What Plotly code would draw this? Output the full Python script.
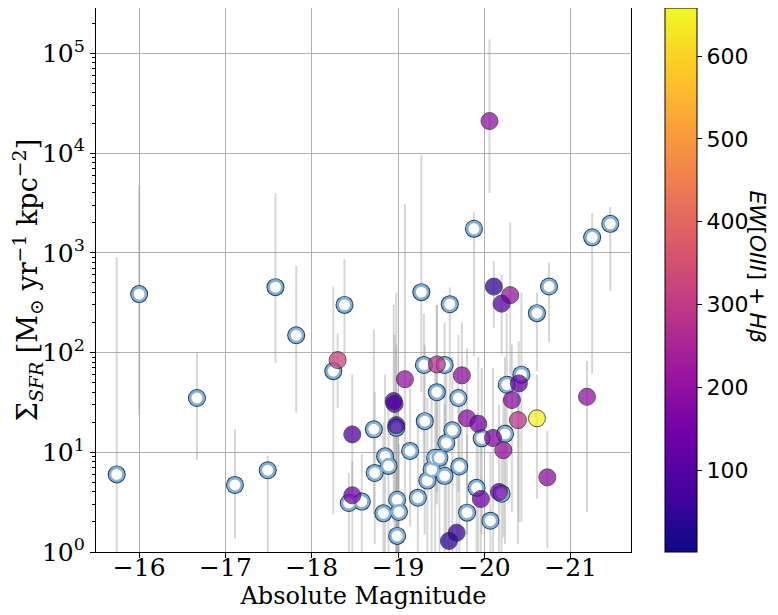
import plotly.graph_objects as go

# galaxias sin medida de EW (círculos abiertos)
open_mag = [-15.74, -16.00, -16.67, -17.11, -17.49, -17.58, -17.82, -18.25, -18.38, -18.43,
            -18.58, -18.72, -18.73, -18.83, -18.85, -18.89, -18.99, -19.01, -18.99, -18.98,
            -19.14, -19.23, -19.30, -19.31, -19.34, -19.39, -19.43, -19.48, -19.54, -19.45,
            -19.54, -19.56, -19.63, -19.71, -19.70, -19.80, -19.91, -19.97, -20.07, -20.20,
            -20.24, -20.26, -20.43, -20.61, -20.75, -19.60, -19.88, -21.25, -21.46, -19.27]
open_sfr = [6.0, 385, 35, 4.7, 6.6, 452, 149, 65, 300, 3.1,
            3.2, 17, 6.2, 2.44, 9.1, 7.3, 3.34, 2.52, 1.45, 17.6,
            10.3, 3.5, 75, 20.5, 5.2, 6.7, 8.8, 8.8, 5.8, 40,
            75, 12.4, 16.6, 7.2, 35, 2.48, 4.4, 13.8, 2.06, 3.84,
            15.3, 47.5, 60, 248, 459, 305, 1740, 1430, 1950, 403]
open_hi = [900, 4770, 100, 17, 9.2, 3960, 740, 460, 860, 6.2,
           9.6, 170, 40, 20, 60, 30, 25, 12, 8, 400,
           55, 20, 245, 120, 35, 45, 70, 40, 30, 300,
           200, 80, 90, 35, 150, 15, 25, 70, 10, 14,
           90, 250, 400, 400, 800, 450, 2540, 2500, 2870, 9500]
open_lo = [0.5, 23.6, 8.3, 1.35, 0.5, 78, 25, 2.4, 93, 0.5,
           0.5, 2.4, 1.2, 0.5, 0.6, 0.5, 0.5, 0.5, 0.5, 0.7,
           1.8, 0.5, 5, 1.5, 0.5, 0.8, 0.5, 1.0, 0.5, 3,
           6, 1.5, 0.8, 0.5, 4, 0.5, 0.5, 1.5, 0.5, 0.5,
           1.2, 4, 2, 65, 127, 15, 92, 61, 412, 40]

# galaxias con EW([OIII]+Hβ)
ew_mag = [-18.30, -18.47, -18.47, -19.08, -18.95, -18.96, -18.98, -19.45, -19.74, -19.80,
          -19.93, -20.10, -20.22, -20.32, -20.40, -20.39, -20.61, -21.19, -20.73, -19.96,
          -20.17, -19.68, -19.59, -20.06, -20.11, -20.30, -20.20]
ew_sfr = [84, 15.1, 3.7, 54, 32.6, 30.5, 18.7, 76, 59, 21.9,
          19.3, 13.9, 10.5, 33.4, 49, 21, 21.9, 36, 5.6, 3.4,
          4.0, 1.56, 1.29, 20900, 458, 376, 309]
ew_val = [320, 90, 150, 210, 70, 90, 60, 280, 200, 190,
          160, 170, 210, 190, 130, 290, 650, 200, 190, 150,
          130, 60, 40, 200, 40, 210, 100]
ew_hi = [156, 60, 8, 3100, 300, 150, 120, 300, 200, 110,
         90, 70, 35, 120, 130, 60, 60, 82, 16.3, 20,
         30, 6, 5, 138000, 830, 2000, 600]
ew_lo = [27.6, 3, 0.5, 3, 2, 1.5, 0.6, 4, 6, 1.5,
         1.0, 0.8, 1.4, 2.5, 2, 1.2, 3.4, 2.5, 1.1, 0.5,
         0.5, 0.5, 0.5, 3970, 175, 60, 95]

Y_TICKS = [1, 10, 100, 1000, 10000, 100000]
Y_TICKTEXT = ["10<sup>0</sup>", "10<sup>1</sup>", "10<sup>2</sup>",
              "10<sup>3</sup>", "10<sup>4</sup>", "10<sup>5</sup>"]
X_TICKS = [-16, -17, -18, -19, -20, -21]
CB_TICKS = [100, 200, 300, 400, 500, 600]

SERIF = "DejaVu Serif"
SANS = "DejaVu Sans"
ERR_COLOR = "rgba(150,150,150,0.38)"


def err_trace(x, y, hi, lo):
    return go.Scatter(
        x=x, y=y, mode="markers",
        marker=dict(size=1, opacity=0),
        error_y=dict(type="data", symmetric=False,
                     array=[h - v for h, v in zip(hi, y)],
                     arrayminus=[v - l for v, l in zip(y, lo)],
                     color=ERR_COLOR, thickness=2, width=0),
        showlegend=False, hoverinfo="skip",
    )


fig = go.Figure()
fig.add_trace(err_trace(open_mag, open_sfr, open_hi, open_lo))
fig.add_trace(err_trace(ew_mag, ew_sfr, ew_hi, ew_lo))

# círculos abiertos: borde oscuro + anillo azul claro + interior blanco
fig.add_trace(go.Scatter(
    x=open_mag, y=open_sfr, mode="markers",
    marker=dict(size=18, color="#1d3b5c", line=dict(width=0)),
    showlegend=False,
))
fig.add_trace(go.Scatter(
    x=open_mag, y=open_sfr, mode="markers",
    marker=dict(size=13.5, color="white", line=dict(width=2.6, color="#86b0d6")),
    showlegend=False,
))

fig.add_trace(go.Scatter(
    x=ew_mag, y=ew_sfr, mode="markers",
    marker=dict(
        size=17, color=ew_val, colorscale="Plasma", cmin=1, cmax=658,
        opacity=0.75, line=dict(width=1, color="#222222"),
        colorbar=dict(
            x=1.0636, xanchor="left", xpad=0, y=0.5, yanchor="middle", ypad=0, len=1,
            thickness=32, outlinewidth=1, outlinecolor="black",
            tickvals=CB_TICKS, ticks="outside", ticklen=5, tickcolor="black",
            tickfont=dict(family=SANS, size=22, color="black"),
        ),
    ),
    showlegend=False,
))

fig.add_annotation(
    text="<i>EW</i>[<i>OIII</i>] + <i>Hβ</i>",
    xref="paper", yref="paper", x=1.2364, y=0.524,
    xanchor="center", yanchor="middle",
    textangle=90, showarrow=False,
    font=dict(family=SANS, size=22, color="black"),
)

fig.update_xaxes(
    range=[-15.5, -21.7], tickvals=X_TICKS,
    showgrid=True, gridcolor="#b0b0b0", gridwidth=1,
    showline=True, linecolor="black", linewidth=1.2, mirror=True,
    ticks="outside", ticklen=5, tickcolor="black", ticklabelstandoff=-12,
    tickfont=dict(family=SERIF, size=25, color="black"),
    title=dict(text="Absolute Magnitude", font=dict(family=SERIF, size=24, color="black"),
               standoff=0),
    zeroline=False,
)
fig.update_yaxes(
    type="log", range=[0, 5.454], tickvals=Y_TICKS, ticktext=Y_TICKTEXT,
    showgrid=True, gridcolor="#b0b0b0", gridwidth=1,
    showline=True, linecolor="black", linewidth=1.2, mirror=True,
    ticks="outside", ticklen=5, tickcolor="black",
    tickfont=dict(family=SERIF, size=25, color="black"),
    minor=dict(ticks="outside", ticklen=2.5, tickcolor="black", showgrid=False,
               tickvals=[m * 10 ** d for d in range(6) for m in range(2, 10)]),
    title=dict(text="Σ<sub><i>SFR</i></sub> [M<sub>⊙</sub> yr<sup>−1</sup> kpc<sup>−2</sup>]",
               font=dict(family=SERIF, size=27, color="black"), standoff=2),
    zeroline=False,
)

# la página añade ~8 px de margen, así que la figura es algo menor que la ventana
fig.update_layout(
    width=770, height=607,
    margin=dict(l=88, r=147, t=0, b=63, autoexpand=False),
    plot_bgcolor="white", paper_bgcolor="white",
)

fig.write_html("out.html")
